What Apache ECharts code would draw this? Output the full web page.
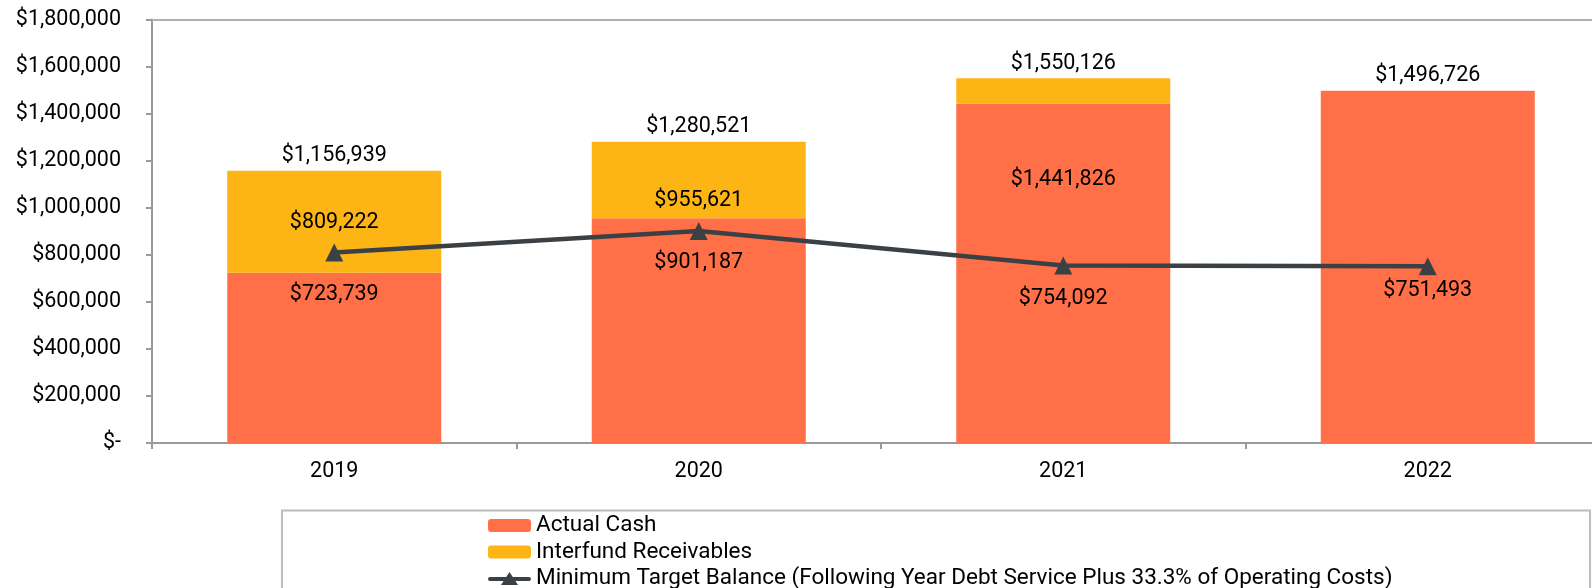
<!DOCTYPE html>
<html>
<head>
<meta charset="utf-8">
<script src="https://cdn.jsdelivr.net/npm/echarts@6/dist/echarts.min.js"></script>
<style>
html,body{margin:0;padding:0;background:#fff;}
#chart{width:1592px;height:588px;}
</style>
</head>
<body>
<div id="chart"></div>
<script>
// ---- data ----
var years = ['2019', '2020', '2021', '2022'];
var actualCash = [723739, 955621, 1441826, 1496726];
var interfundReceivables = [433200, 324900, 108300, 0];
var totalBalance = [1156939, 1280521, 1550126, 1496726];
var minimumTarget = [809222, 901187, 754092, 751493];
var seriesNames = ['Actual Cash', 'Interfund Receivables', 'Minimum Target Balance (Following Year Debt Service Plus 33.3% of Operating Costs)'];
var yTicks = [0, 200000, 400000, 600000, 800000, 1000000, 1200000, 1400000, 1600000, 1800000];

// ---- formatting / styling ----
function money(v) { return v === 0 ? '$-' : '$' + v.toLocaleString('en-US'); }
var FONT = 'Roboto';
var FS = 21.5;
var LFS = 22.5;
var orange = '#FF6F48';
var yellow = '#FDB515';
var lineColor = '#3B4045';
var axisGray = '#9a9a9a';

// manual label placement (as in the reference)
var cashLabelDy = [33, -6.5, 87, null];
var lineLabelDy = [-29.5, 32, 33.5, 24.5];

// legend icon for the line series: thick line with a triangle marker
var lineLegendIcon = 'path://M2,5L41,5A2,2 0 0 1 41,9L2,9A2,2 0 0 1 2,5Z M21.5,0L30,13L13,13Z';

var chart = echarts.init(document.getElementById('chart'), null, {renderer: 'canvas'});

var cashData = actualCash.map(function (v, i) {
  var d = {value: v};
  if (cashLabelDy[i] === null) {
    d.label = {show: false};
  } else {
    d.label = {show: true, position: 'top', distance: 0, offset: [0, cashLabelDy[i]]};
  }
  return d;
});
var lineData = minimumTarget.map(function (v, i) {
  return {value: v, label: {show: true, position: 'inside', offset: [0, lineLabelDy[i]]}};
});

var option = {
  animation: false,
  backgroundColor: '#fff',
  textStyle: {fontFamily: FONT},
  grid: {left: 152, width: 1458, top: 19.5, bottom: 145, containLabel: false, outerBoundsMode: 'none'},
  legend: {
    data: [
      {name: seriesNames[0]},
      {name: seriesNames[1]},
      {name: seriesNames[2], icon: lineLegendIcon, itemStyle: {color: lineColor, borderWidth: 0}}
    ],
    orient: 'vertical',
    left: 488,
    top: 514,
    height: 200,
    itemWidth: 43,
    itemHeight: 13,
    itemGap: 3.5,
    padding: 0,
    textStyle: {fontFamily: FONT, fontSize: LFS, color: '#000'}
  },
  xAxis: [{
    type: 'category',
    data: years,
    axisLine: {show: true, lineStyle: {color: axisGray, width: 2}},
    axisTick: {show: true, length: 6, lineStyle: {color: axisGray, width: 2}},
    axisLabel: {fontFamily: FONT, fontSize: FS, color: '#000', margin: 18},
    splitLine: {show: false}
  }, {
    type: 'category',
    data: years,
    position: 'top',
    axisLine: {show: true, lineStyle: {color: '#b0b0b0', width: 2}},
    axisTick: {show: false},
    axisLabel: {show: false}
  }],
  yAxis: {
    type: 'value',
    min: 0,
    max: 1800000,
    interval: 200000,
    axisLine: {show: true, lineStyle: {color: axisGray, width: 2}},
    axisTick: {show: true, length: 6, lineStyle: {color: axisGray, width: 2}},
    axisLabel: {fontFamily: FONT, fontSize: FS, color: '#000', margin: 31, formatter: money},
    splitLine: {show: false}
  },
  graphic: [{
    type: 'rect',
    shape: {x: 282, y: 510.5, width: 1308, height: 120},
    style: {fill: 'none', stroke: '#bcbcbc', lineWidth: 2},
    silent: true
  }],
  series: [{
    name: seriesNames[0],
    type: 'bar',
    stack: 'cash',
    barWidth: 214,
    data: cashData,
    itemStyle: {color: orange},
    label: {fontFamily: FONT, fontSize: FS, color: '#000', formatter: function (p) { return money(p.value); }}
  }, {
    name: seriesNames[1],
    type: 'bar',
    stack: 'cash',
    barWidth: 214,
    data: interfundReceivables,
    itemStyle: {color: yellow}
  }, {
    name: 'Total',
    type: 'line',
    data: totalBalance,
    symbol: 'circle',
    symbolSize: 2,
    showSymbol: true,
    itemStyle: {color: 'rgba(0,0,0,0)'},
    lineStyle: {color: 'rgba(0,0,0,0)', width: 0},
    silent: true,
    z: 5,
    label: {show: true, position: 'top', distance: 3, fontFamily: FONT, fontSize: FS, color: '#000', formatter: function (p) { return money(p.value); }}
  }, {
    name: seriesNames[2],
    type: 'line',
    data: lineData,
    symbol: 'triangle',
    symbolSize: 18,
    itemStyle: {color: lineColor},
    lineStyle: {color: lineColor, width: 4.5},
    z: 10,
    label: {fontFamily: FONT, fontSize: FS, color: '#000', formatter: function (p) { return money(p.value); }}
  }]
};
chart.setOption(option);
</script>
</body>
</html>
